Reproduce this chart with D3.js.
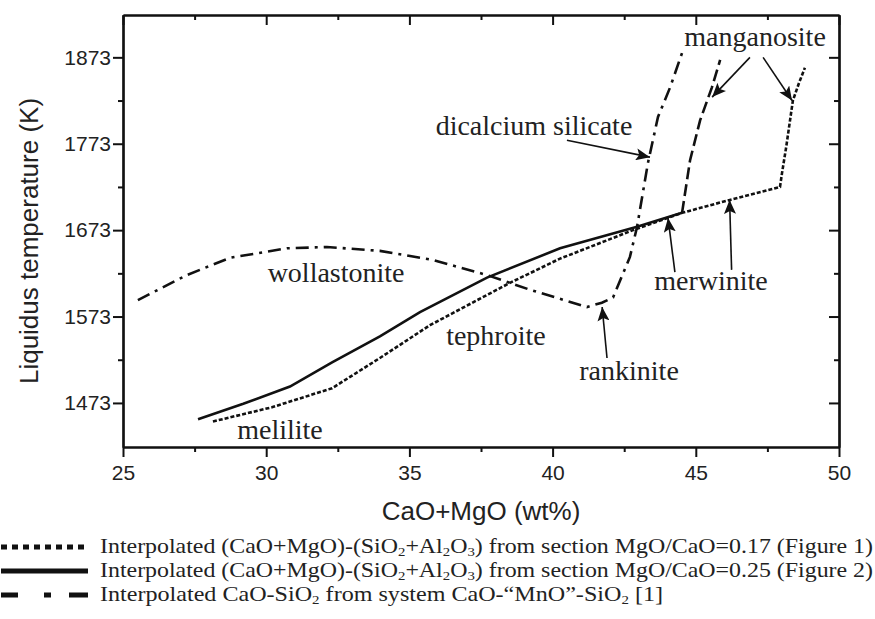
<!DOCTYPE html>
<html>
<head>
<meta charset="utf-8">
<script src="https://cdn.jsdelivr.net/npm/d3@7"></script>
<style>
  body { margin: 0; background: #fff; }
  .tick text { font-family: "Liberation Sans", Arial, sans-serif; font-size: 21px; fill: #222; }
  .axis-title { font-family: "Liberation Sans", Arial, sans-serif; font-size: 26px; fill: #222; }
  .label { font-family: "Liberation Serif", "Times New Roman", serif; font-size: 28px; fill: #222; }
  .legend-text { font-family: "Liberation Serif", "Times New Roman", serif; font-size: 21px; fill: #222; }
</style>
</head>
<body>
<svg id="chart"></svg>
<script>
// Section MgO/CaO = 0.17 (dotted), [CaO+MgO wt%, T K]
const dottedX = [28.14, 30.2, 32.3, 33.97, 35.72, 38.51, 40.26, 42.81, 44.52, 46.19, 47.94, 48.01, 48.16, 48.29, 48.39, 48.6, 48.81];
const dottedY = [1451.5, 1468, 1490, 1525, 1563, 1612, 1640, 1673, 1693, 1708, 1723, 1739, 1770, 1800, 1823, 1843, 1861];

// Section MgO/CaO = 0.25 (solid)
const solidX = [27.62, 29.2, 30.83, 32.3, 33.97, 35.37, 37.71, 40.26, 42.95, 44.52];
const solidY = [1454, 1472, 1492, 1520, 1550, 1578, 1618, 1652, 1677, 1693];

// manganosite boundary continuing the solid line (dashed)
const dashedX = [44.52, 44.8, 45.15, 45.56, 45.85];
const dashedY = [1693, 1754, 1800, 1838, 1870];

// CaO-SiO2 from CaO-"MnO"-SiO2 (dash-dot)
const dashDotX = [25.52, 27.23, 28.74, 30.73, 32.12, 33.97, 35.82, 37.71, 39.21, 41.2, 41.72, 42.11, 42.7, 42.95, 43.33, 43.68, 44.1, 44.52];
const dashDotY = [1592, 1621, 1641, 1652, 1653.5, 1649, 1638.5, 1621, 1604, 1584, 1589, 1595, 1642, 1677, 1751, 1804, 1838, 1878];

// phase labels
const labelNames = ['dicalcium silicate', 'manganosite', 'wollastonite', 'tephroite', 'rankinite', 'merwinite', 'melilite'];
const labelX = [39.35, 47.07, 32.44, 38.02, 42.67, 45.53, 30.48];
const labelY = [1783, 1885.7, 1613, 1540, 1499, 1604, 1430.7];

// arrows: start (x1,y1) -> tip (x2,y2)
const arrowX1 = [40.5, 46.89, 47.35, 44.27, 46.25, 41.9];
const arrowY1 = [1777, 1873, 1873, 1624.5, 1627, 1525];
const arrowX2 = [43.4, 45.57, 48.36, 44.03, 46.18, 41.73];
const arrowY2 = [1757.5, 1827, 1823, 1687, 1708, 1584];

const xTicks = [25, 30, 35, 40, 45, 50];
const yTicks = [1473, 1573, 1673, 1773, 1873];

const width = 875, height = 619;
const margin = { top: 15, right: 36, bottom: 172, left: 123 };
const innerW = width - margin.left - margin.right;
const innerH = height - margin.top - margin.bottom;

const svg = d3.select('#chart').attr('width', width).attr('height', height);
const g = svg.append('g').attr('transform', `translate(${margin.left},${margin.top})`);

const x = d3.scaleLinear().domain([25, 50]).range([0, innerW]);
const y = d3.scaleLinear().domain([1422, 1922]).range([innerH, 0]);

const xMinor = d3.range(27.5, 50, 5);
const yMinor = d3.range(1523, 1922, 100);

// axes: bottom/left ticks point out, top/right mirrored pointing in
function styleAxis(sel) {
  sel.select('.domain').attr('stroke', '#111').attr('stroke-width', 2.2);
  sel.selectAll('.tick line').attr('stroke', '#111').attr('stroke-width', 2);
}

g.append('g').attr('transform', `translate(0,${innerH})`)
  .call(d3.axisBottom(x).tickValues(xTicks).tickSize(10).tickPadding(8).tickSizeOuter(0).tickFormat(d3.format('d')))
  .call(styleAxis);
g.append('g').attr('transform', `translate(0,${innerH})`)
  .call(d3.axisBottom(x).tickValues(xMinor).tickSize(5).tickFormat('').tickSizeOuter(0))
  .call(styleAxis);
g.append('g')
  .call(d3.axisLeft(y).tickValues(yTicks).tickSize(10).tickPadding(2).tickSizeOuter(0).tickFormat(d3.format('d')))
  .call(styleAxis);
g.append('g')
  .call(d3.axisLeft(y).tickValues(yMinor).tickSize(5).tickFormat('').tickSizeOuter(0))
  .call(styleAxis);
g.append('g')
  .call(d3.axisTop(x).tickValues(xTicks).tickSize(-10).tickFormat('').tickSizeOuter(0))
  .call(styleAxis);
g.append('g')
  .call(d3.axisTop(x).tickValues(xMinor).tickSize(-5).tickFormat('').tickSizeOuter(0))
  .call(styleAxis);
g.append('g').attr('transform', `translate(${innerW},0)`)
  .call(d3.axisRight(y).tickValues(yTicks).tickSize(-10).tickFormat('').tickSizeOuter(0))
  .call(styleAxis);
g.append('g').attr('transform', `translate(${innerW},0)`)
  .call(d3.axisRight(y).tickValues(yMinor).tickSize(-5).tickFormat('').tickSizeOuter(0))
  .call(styleAxis);

// axis titles
g.append('text')
  .attr('class', 'axis-title')
  .attr('text-anchor', 'middle')
  .attr('x', innerW / 2)
  .attr('y', innerH + 73)
  .text('CaO+MgO (wt%)');

g.append('text')
  .attr('class', 'axis-title')
  .attr('text-anchor', 'middle')
  .attr('transform', `translate(-85,${innerH / 2 + 10}) rotate(-90)`)
  .text('Liquidus temperature (K)');

// curves
const line = d3.line().x(d => x(d[0])).y(d => y(d[1]));
const zip = (xs, ys) => xs.map((v, i) => [v, ys[i]]);

const series = [
  { pts: zip(dashDotX, dashDotY), dash: '13,6,3,6', w: 2.6 },
  { pts: zip(dashedX, dashedY), dash: '12,5', w: 2.6 },
  { pts: zip(dottedX, dottedY), dash: '4,2', w: 2.6 },
  { pts: zip(solidX, solidY), dash: null, w: 2.6 }
];

g.selectAll('.curve')
  .data(series)
  .join('path')
  .attr('class', 'curve')
  .attr('fill', 'none')
  .attr('stroke', '#111')
  .attr('stroke-width', d => d.w)
  .attr('stroke-dasharray', d => d.dash)
  .attr('d', d => line(d.pts));

// arrow head marker
svg.append('defs').append('marker')
  .attr('id', 'head')
  .attr('viewBox', '0 0 14 12')
  .attr('refX', 14).attr('refY', 6)
  .attr('markerWidth', 14).attr('markerHeight', 12)
  .attr('markerUnits', 'userSpaceOnUse')
  .attr('orient', 'auto')
  .append('path')
  .attr('d', 'M0,0 L14,6 L0,12 L3,6 Z')
  .attr('fill', '#111');

g.selectAll('.arrow')
  .data(arrowX1.map((v, i) => i))
  .join('line')
  .attr('class', 'arrow')
  .attr('x1', i => x(arrowX1[i])).attr('y1', i => y(arrowY1[i]))
  .attr('x2', i => x(arrowX2[i])).attr('y2', i => y(arrowY2[i]))
  .attr('stroke', '#111')
  .attr('stroke-width', 1.6)
  .attr('marker-end', 'url(#head)');

g.selectAll('.label')
  .data(labelNames)
  .join('text')
  .attr('class', 'label')
  .attr('text-anchor', 'middle')
  .attr('x', (d, i) => x(labelX[i]))
  .attr('y', (d, i) => y(labelY[i]))
  .text(d => d);

// legend
const legendRows = [
  { dash: '6,5', w: 5, parts: [['Interpolated (CaO+MgO)-(SiO'], ['2', 'sub'], ['+Al'], ['2', 'sub'], ['O'], ['3', 'sub'], [') from section MgO/CaO=0.17 (Figure 1)']], len: 773 },
  { dash: null, w: 5, parts: [['Interpolated (CaO+MgO)-(SiO'], ['2', 'sub'], ['+Al'], ['2', 'sub'], ['O'], ['3', 'sub'], [') from section MgO/CaO=0.25 (Figure 2)']], len: 773 },
  { dash: '17,26,7,18,19', w: 5, parts: [['Interpolated CaO-SiO'], ['2', 'sub'], [' from system CaO-\u201cMnO\u201d-SiO'], ['2', 'sub'], [' [1]']], len: 563 }
];

const legend = svg.append('g');
legendRows.forEach((r, i) => {
  const ly = 547 + i * 24;
  legend.append('line')
    .attr('x1', 1).attr('x2', 88)
    .attr('y1', ly).attr('y2', ly)
    .attr('stroke', '#111')
    .attr('stroke-width', r.w)
    .attr('stroke-dasharray', r.dash);
  const t = legend.append('text')
    .attr('class', 'legend-text')
    .attr('x', 100)
    .attr('y', ly + 6)
    .attr('textLength', r.len)
    .attr('lengthAdjust', 'spacingAndGlyphs');
  let sub = false;
  r.parts.forEach(p => {
    const isSub = p[1] === 'sub';
    const s = t.append('tspan').text(p[0]);
    if (isSub) s.attr('font-size', '13px');
    s.attr('dy', isSub && !sub ? 3 : (!isSub && sub ? -3 : 0));
    sub = isSub;
  });
});
</script>
</body>
</html>
